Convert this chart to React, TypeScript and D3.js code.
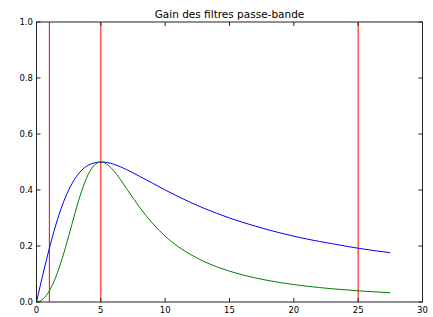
import React, { useEffect, useRef } from 'react'
import * as d3 from 'd3'

// values
const xs = [0, 0.5, 1, 1.5, 2, 2.5, 3, 3.5, 4, 4.5, 5, 5.5, 6, 7, 8, 9, 10, 11, 12, 13, 14, 15, 17, 19, 21, 23, 25, 27.5]
const blueGain = [0, 0.099, 0.192, 0.275, 0.345, 0.4, 0.441, 0.47, 0.488, 0.497, 0.5, 0.498, 0.492, 0.473, 0.449, 0.425, 0.4, 0.377, 0.355, 0.335, 0.317, 0.3, 0.271, 0.246, 0.225, 0.208, 0.192, 0.176]
const greenGain = [0, 0.01, 0.04, 0.089, 0.156, 0.235, 0.319, 0.395, 0.454, 0.489, 0.5, 0.491, 0.469, 0.405, 0.339, 0.282, 0.235, 0.198, 0.169, 0.145, 0.126, 0.11, 0.086, 0.069, 0.0565, 0.0472, 0.04, 0.033]
const cutoffs = [1, 5, 25]
const xTicks = [0, 5, 10, 15, 20, 25, 30]
const yTicks = [0, 0.2, 0.4, 0.6, 0.8, 1.0]
const title = 'Gain des filtres passe-bande'

export default function App() {
    const svgRef = useRef<SVGSVGElement>(null)
    const width = 433
    const height = 317
    const margin = { left: 36.5, right: 10.5, top: 22, bottom: 15 }

    useEffect(() => {
        const svg = d3.select(svgRef.current)
        svg.selectAll('*').remove()

        const x = d3.scaleLinear().domain([0, 30]).range([margin.left, width - margin.right])
        const y = d3.scaleLinear().domain([0, 1]).range([height - margin.bottom, margin.top])

        const font = 'DejaVu Sans, sans-serif'

        // cutoff lines
        svg.selectAll('line.cut')
            .data(cutoffs)
            .join('line')
            .attr('class', 'cut')
            .attr('x1', d => x(d)).attr('x2', d => x(d))
            .attr('y1', y(0)).attr('y2', y(1))
            .attr('stroke', '#ff0000')
            .attr('stroke-width', 1)

        const line = d3.line<number>()
            .x((d, i) => x(xs[i]))
            .y(d => y(d))
            .curve(d3.curveMonotoneX)

        svg.append('path').attr('d', line(blueGain)).attr('fill', 'none').attr('stroke', '#0000ff').attr('stroke-width', 1)
        svg.append('path').attr('d', line(greenGain)).attr('fill', 'none').attr('stroke', '#008000').attr('stroke-width', 1)

        // frame
        svg.append('rect')
            .attr('x', x(0)).attr('y', y(1))
            .attr('width', x(30) - x(0)).attr('height', y(0) - y(1))
            .attr('fill', 'none').attr('stroke', '#222').attr('stroke-width', 1)

        // ticks inward, on all sides
        const tl = 4
        xTicks.forEach(t => {
            svg.append('line').attr('x1', x(t)).attr('x2', x(t)).attr('y1', y(0)).attr('y2', y(0) - tl).attr('stroke', '#222')
            svg.append('line').attr('x1', x(t)).attr('x2', x(t)).attr('y1', y(1)).attr('y2', y(1) + tl).attr('stroke', '#222')
        })
        yTicks.forEach(t => {
            svg.append('line').attr('x1', x(0)).attr('x2', x(0) + tl).attr('y1', y(t)).attr('y2', y(t)).attr('stroke', '#222')
            svg.append('line').attr('x1', x(30)).attr('x2', x(30) - tl).attr('y1', y(t)).attr('y2', y(t)).attr('stroke', '#222')
        })

        svg.selectAll('text.xt')
            .data(xTicks)
            .join('text')
            .attr('class', 'xt')
            .attr('x', d => x(d)).attr('y', y(0) + 10.5)
            .attr('text-anchor', 'middle')
            .attr('font-family', font).attr('font-size', 8.5)
            .text(d => String(d))

        svg.selectAll('text.yt')
            .data(yTicks)
            .join('text')
            .attr('class', 'yt')
            .attr('x', x(0) - 3.5).attr('y', d => y(d) + 3)
            .attr('text-anchor', 'end')
            .attr('font-family', font).attr('font-size', 8.5)
            .text(d => d.toFixed(1))

        svg.append('text')
            .attr('x', (x(0) + x(30)) / 2).attr('y', 17.5)
            .attr('text-anchor', 'middle')
            .attr('font-family', font).attr('font-size', 10.5)
            .text(title)
    }, [])

    return (
        <svg ref={svgRef} width={width} height={height}
            style={{ position: 'absolute', left: 0, top: 0, background: '#fff' }} />
    )
}
